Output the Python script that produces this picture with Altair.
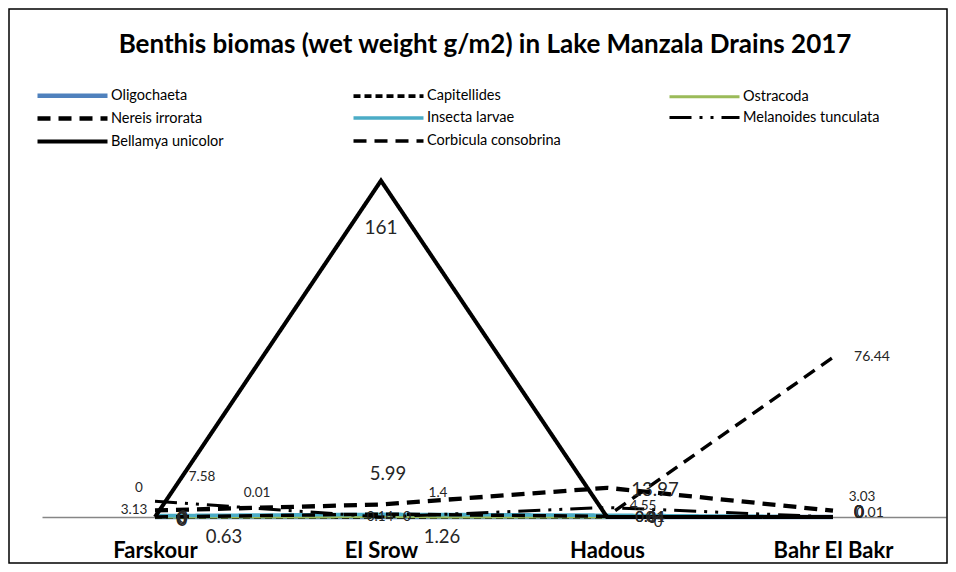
import altair as alt
import pandas as pd

categories = ["Farskour", "El Srow", "Hadous", "Bahr El Bakr"]
series_names = ["Oligochaeta", "Capitellides", "Ostracoda", "Nereis irrorata",
                "Insecta larvae", "Melanoides tunculata", "Bellamya unicolor",
                "Corbicula consobrina"]

oligochaeta = [0, 0, 0, 0]
capitellides = [0, 0, 0, 0]
ostracoda = [0, 0.14, 0, 0]
nereis = [3.13, 5.99, 13.97, 3.03]
insecta = [0.63, 1.26, 0.84, 0.01]
melanoides = [7.58, 0.01, 4.55, 0]
bellamya = [0, 161, 0, 0]
corbicula = [0, 1.4, 0.31, 76.44]

values = [oligochaeta, capitellides, ostracoda, nereis, insecta, melanoides,
          bellamya, corbicula]

TITLE = "Benthis biomas (wet weight g/m2) in Lake Manzala Drains 2017"

# styles
colors = ["#4F81BD", "#000000", "#9BBB59", "#000000", "#4BACC6", "#000000",
          "#000000", "#000000"]
dashes = [[1, 0], [7, 4], [1, 0], [13, 8], [1, 0], [22, 8, 3, 8, 3, 8],
          [1, 0], [13, 8]]
widths = [4.5, 3, 4.5, 3, 4.5, 3, 3, 3]

# legend is filled column by column; this order puts the entries row by row
legend_order = [series_names[i] for i in [0, 3, 6, 1, 4, 7, 2, 5]]
style_of = {s: (c, d, w) for s, c, d, w in zip(series_names, colors, dashes, widths)}
leg_colors = [style_of[s][0] for s in legend_order]
leg_dashes = [style_of[s][1] for s in legend_order]
leg_widths = [style_of[s][2] for s in legend_order]

FONT = "Lato"
BIG, SMALL = 18.5, 13.5

# data-label placement (series index, category index, dx, dy, font size)
label_style = [
    (1, 0, 28, 1, 17), (0, 0, 26, 3, 17), (2, 0, 27, 2, 17),
    (1, 1, 26, 0, 14), (2, 1, -1, 0, 13.5),
    (1, 2, 51, 5, 15), (2, 2, 43, 0, 15),
    (1, 3, 26, -4, 17), (0, 3, 26, -4, 17), (2, 3, 26, -4, 17),
    (3, 0, -21, 0, SMALL), (3, 1, 7, -30, BIG), (3, 2, 48, 2, BIG), (3, 3, 29, -14, SMALL),
    (4, 0, 69, 21, BIG), (4, 1, 61, 23, BIG), (4, 2, 43, 2, 15), (4, 3, 37, -4, 14),
    (5, 0, 47, -24, SMALL), (5, 1, -124, -24, SMALL), (5, 2, 36, -1, SMALL), (5, 3, 26, -4, 17),
    (6, 0, 27, 3, BIG), (6, 1, 0, 47, 19), (6, 2, 45, 1, 15), (6, 3, 26, -4, 17),
    (7, 0, -16, -29, SMALL), (7, 1, 57, -21, SMALL), (7, 2, 43, 1, 15), (7, 3, 39, 0, 14),
]

rows = []
for s, vals in zip(series_names, values):
    for k, (c, v) in enumerate(zip(categories, vals)):
        rows.append({"series": s, "category": c, "value": v,
                     "sidx": series_names.index(s), "cidx": k})
df = pd.DataFrame(rows)

W, H = 904, 376

x_scale = alt.Scale(type="point", padding=0.5)
y_scale = alt.Scale(domain=[0, 180], nice=False)

x_enc = alt.X("category:N", sort=categories, scale=x_scale,
              axis=alt.Axis(title=None, labelAngle=0, ticks=False,
                            labelFontSize=22, labelFontWeight="bold",
                            labelFont=FONT, labelColor="#000000",
                            labelPadding=23, domainColor="#868686",
                            domainWidth=1.5, grid=False))
y_enc = alt.Y("value:Q", scale=y_scale, axis=None)

lines = alt.Chart(df).mark_line(strokeCap="butt", strokeJoin="miter").encode(
    x=x_enc,
    y=y_enc,
    color=alt.Color("series:N",
                    scale=alt.Scale(domain=legend_order, range=leg_colors),
                    legend=alt.Legend(
                        title=None, orient="none", legendX=18, legendY=-58,
                        columns=3, gridAlign="all", columnPadding=97,
                        rowPadding=1, symbolType="M-3.5,0H3.5", symbolSize=400,
                        labelFontSize=14.5, labelFont=FONT, labelColor="#000000",
                        labelOffset=26)),
    strokeDash=alt.StrokeDash("series:N",
                              scale=alt.Scale(domain=legend_order, range=leg_dashes),
                              legend=alt.Legend(title=None, orient="none")),
    strokeWidth=alt.StrokeWidth("series:N",
                                scale=alt.Scale(domain=legend_order, range=leg_widths),
                                legend=alt.Legend(title=None, orient="none")),
    detail="sidx:O",
)

label_layers = []
for si, ci, dx, dy, fs in label_style:
    lab = alt.Chart(df).transform_filter(
        (alt.datum.sidx == si) & (alt.datum.cidx == ci)
    ).mark_text(dx=dx, dy=dy, fontSize=fs, font=FONT, color="#262626",
                baseline="middle", align="center").encode(
        x=alt.X("category:N", sort=categories, scale=x_scale),
        y=alt.Y("value:Q", scale=y_scale),
        text=alt.Text("value:Q", format="~g"),
    )
    label_layers.append(lab)

frame = alt.Chart(pd.DataFrame({"k": [0]})).mark_rect(
    fill=None, stroke="#000000", strokeWidth=1.5).encode(
    x=alt.value(-33), x2=alt.value(905), y=alt.value(-132), y2=alt.value(422))

title = alt.Chart(pd.DataFrame({"t": [TITLE]})).mark_text(
    font=FONT, fontSize=26, fontWeight="bold", color="#000000",
    align="center", baseline="middle").encode(
    x=alt.value(443), y=alt.value(-96), text="t:N")

chart = alt.layer(frame, title, lines, *label_layers).properties(
    width=W, height=H,
    padding={"left": 34, "top": 133, "right": 2, "bottom": 47},
    autosize=alt.AutoSizeParams(type="none"),
).configure_view(stroke=None)

chart.save("out.html", embed_options={"renderer": "svg", "actions": False})
